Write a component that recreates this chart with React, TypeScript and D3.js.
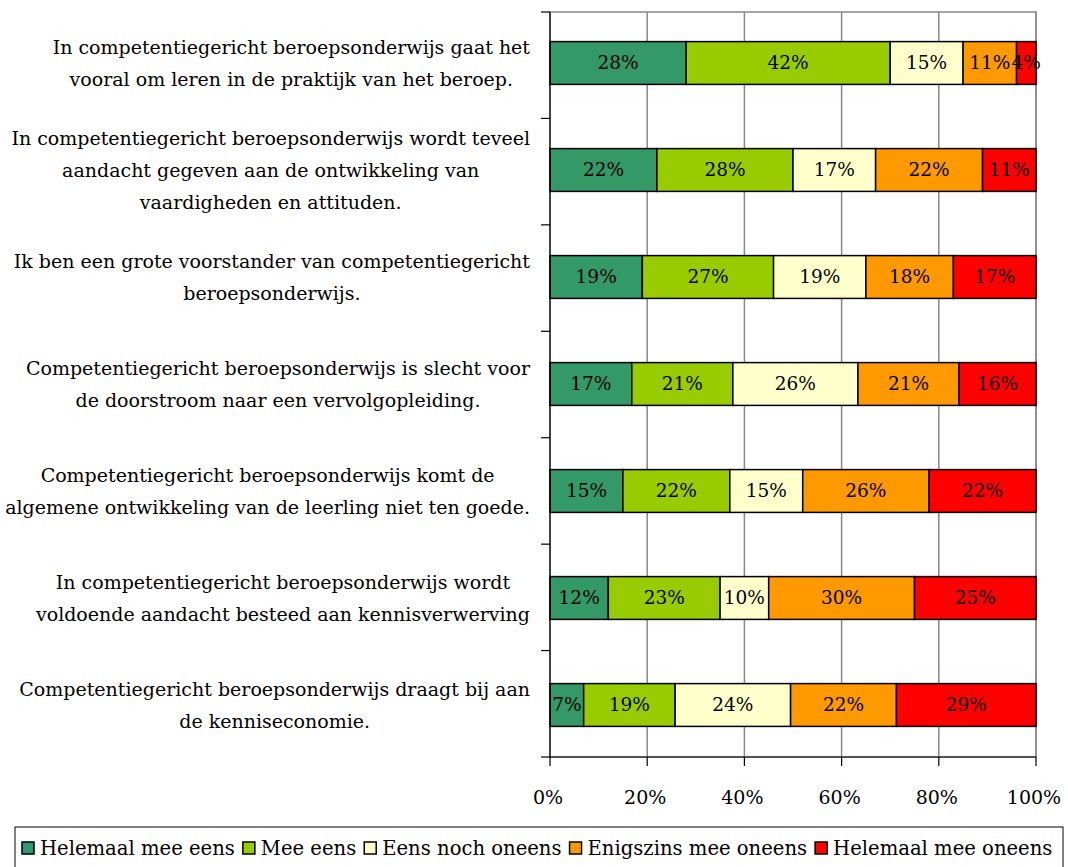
import React, { useEffect, useRef } from 'react';
import * as d3 from 'd3';

// statements, split in the lines as shown
const categories: string[][] = [
  ['In competentiegericht beroepsonderwijs gaat het', 'vooral om leren in de praktijk van het beroep.'],
  ['In competentiegericht beroepsonderwijs wordt teveel', 'aandacht gegeven aan de ontwikkeling van', 'vaardigheden en attituden.'],
  ['Ik ben een grote voorstander van competentiegericht', 'beroepsonderwijs.'],
  ['Competentiegericht beroepsonderwijs is slecht voor', 'de doorstroom naar een vervolgopleiding.'],
  ['Competentiegericht beroepsonderwijs komt de', 'algemene ontwikkeling van de leerling niet ten goede.'],
  ['In competentiegericht beroepsonderwijs wordt', 'voldoende aandacht besteed aan kennisverwerving'],
  ['Competentiegericht beroepsonderwijs draagt bij aan', 'de kenniseconomie.'],
];

const seriesNames = ['Helemaal mee eens', 'Mee eens', 'Eens noch oneens', 'Enigszins mee oneens', 'Helemaal mee oneens'];
const seriesColors = ['#339966', '#99CC00', '#FFFFCC', '#FF9900', '#FF0000'];

// percentages per series, one entry per statement
const helemaalEens = [28, 22, 19, 17, 15, 12, 7];
const meeEens = [42, 28, 27, 21, 22, 23, 19];
const neutraal = [15, 17, 19, 26, 15, 10, 24];
const enigszinsOneens = [11, 22, 18, 21, 26, 30, 22];
const helemaalOneens = [4, 11, 17, 16, 22, 25, 29];

const xTicks = [0, 0.2, 0.4, 0.6, 0.8, 1];

const FONT = '"DejaVu Serif", serif';

export default function App() {
  const svgRef = useRef<SVGSVGElement>(null);

  useEffect(() => {
    const svg = d3.select(svgRef.current);
    svg.selectAll('*').remove();

    const left = 550, right = 1036, top = 12, bottom = 757;
    const series = [helemaalEens, meeEens, neutraal, enigszinsOneens, helemaalOneens];

    const rows = categories.map((c, i) => {
      const vals = series.map(s => s[i]);
      const total = d3.sum(vals);
      let acc = 0;
      return vals.map((v, k) => {
        const x0 = acc / total;
        acc += v;
        return { x0, x1: acc / total, v, k };
      });
    });

    const x = d3.scaleLinear().domain([0, 1]).range([left, right]);
    // bars sit slightly off the tick bands, as in the source
    const y = d3.scaleBand<number>().domain(d3.range(categories.length)).range([9.5, 758.5]).paddingInner(0.6).paddingOuter(0.3);
    const yb = d3.scaleBand<number>().domain(d3.range(categories.length)).range([top, bottom]);

    // plot border + gridlines
    svg.append('rect').attr('x', left).attr('y', top).attr('width', right - left).attr('height', bottom - top)
      .attr('fill', 'none').attr('stroke', '#888').attr('stroke-width', 1.5);
    svg.selectAll('.grid').data(xTicks.slice(1)).enter().append('line')
      .attr('x1', d => x(d)).attr('x2', d => x(d)).attr('y1', top).attr('y2', bottom)
      .attr('stroke', '#888').attr('stroke-width', 1.5);

    // bars
    rows.forEach((segs, i) => {
      const g = svg.append('g');
      g.selectAll('rect').data(segs).enter().append('rect')
        .attr('x', d => x(d.x0)).attr('width', d => x(d.x1) - x(d.x0))
        .attr('y', y(i)!).attr('height', y.bandwidth())
        .attr('fill', d => seriesColors[d.k]).attr('stroke', '#000').attr('stroke-width', 1.5);
      g.selectAll('text').data(segs).enter().append('text')
        .attr('x', d => (x(d.x0) + x(d.x1)) / 2).attr('y', y(i)! + y.bandwidth() / 2)
        .attr('dy', '0.35em').attr('text-anchor', 'middle')
        .style('font-family', FONT).style('font-size', '18.5px').attr('fill', '#000')
        .text(d => `${d.v}%`);
    });

    // left axis
    svg.append('line').attr('x1', left).attr('x2', left).attr('y1', top).attr('y2', bottom).attr('stroke', '#000').attr('stroke-width', 1.2);
    svg.selectAll('.ytick').data(d3.range(categories.length + 1)).enter().append('line')
      .attr('x1', left - 9).attr('x2', left)
      .attr('y1', d => top + d * yb.step()).attr('y2', d => top + d * yb.step())
      .attr('stroke', '#000').attr('stroke-width', 1.2);

    // bottom axis
    svg.append('line').attr('x1', left).attr('x2', right).attr('y1', bottom).attr('y2', bottom).attr('stroke', '#000').attr('stroke-width', 1.2);
    svg.selectAll('.xtick').data(xTicks).enter().append('line')
      .attr('x1', d => x(d)).attr('x2', d => x(d)).attr('y1', bottom).attr('y2', bottom + 9)
      .attr('stroke', '#000').attr('stroke-width', 1.2);
    svg.selectAll('.xlab').data(xTicks).enter().append('text')
      .attr('x', d => x(d) - 2).attr('y', bottom + 40).attr('dy', '0.35em').attr('text-anchor', 'middle')
      .style('font-family', FONT).style('font-size', '19px').text(d => `${Math.round(d * 100)}%`);

    // category labels: block right-aligned, lines centred inside it
    const lineH = 32;
    categories.forEach((lines, i) => {
      const cy = y(i)! + y.bandwidth() / 2;
      const g = svg.append('g');
      const texts = g.selectAll('text').data(lines).enter().append('text')
        .attr('y', (_, j) => cy + (j - (lines.length - 1) / 2) * lineH)
        .attr('dy', '0.35em').attr('text-anchor', 'middle')
        .style('font-family', FONT).style('font-size', '19px').text(d => d);
      let maxW = 0;
      texts.each(function () { maxW = Math.max(maxW, (this as SVGTextElement).getComputedTextLength()); });
      texts.attr('x', 530 - maxW / 2);
    });

    // legend
    svg.append('rect').attr('x', 15).attr('y', 827).attr('width', 1048).attr('height', 60)
      .attr('fill', '#fff').attr('stroke', '#000').attr('stroke-width', 1);
    let lx = 22;
    seriesNames.forEach((name, k) => {
      svg.append('rect').attr('x', lx).attr('y', 842).attr('width', 12).attr('height', 12)
        .attr('fill', seriesColors[k]).attr('stroke', '#000').attr('stroke-width', 1.5);
      const t = svg.append('text').attr('x', lx + 18).attr('y', 848).attr('dy', '0.35em')
        .style('font-family', FONT).style('font-size', '19.6px').text(name);
      lx += 18 + (t.node() as SVGTextElement).getComputedTextLength() + 8;
    });
  }, []);

  return (
    <div style={{ position: 'absolute', left: 0, top: 0 }}>
      <svg ref={svgRef} width={1068} height={867} style={{ display: 'block', background: '#fff' }} />
    </div>
  );
}
